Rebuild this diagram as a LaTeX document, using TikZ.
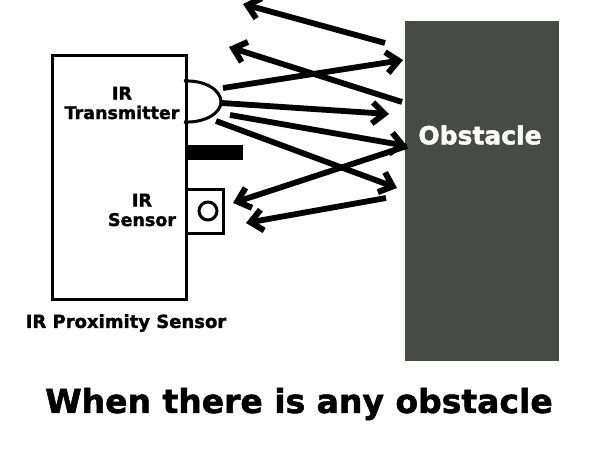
\documentclass[tikz,border=0pt]{standalone}
\usepackage{fontspec}
\setmainfont[BoldFeatures={FakeBold=1.6}]{DejaVu Sans}
\usetikzlibrary{arrows.meta,positioning}
\definecolor{obstaclegray}{HTML}{484A47}
\tikzset{
  label/.style={font=\bfseries\fontsize{17.5}{19.5}\selectfont,align=center,inner sep=0pt,text=black},
  part/.style={draw=black,line width=3pt,fill=white,inner sep=0pt,outer sep=0pt},
  ray/.style={-{Straight Barb[length=12pt,width=21pt,line width=6pt]},line width=5.8pt,black},
}
\begin{document}
\begin{tikzpicture}[x=1pt,y=-1pt]
  \useasboundingbox (0,0) rectangle (600,450);

  \node[part,minimum width=134pt,minimum height=244pt,anchor=north west] (sensor) at (52,55) {};
  \node[draw=none,fill=obstaclegray,minimum width=154pt,minimum height=340pt,inner sep=0pt,outer sep=0pt,anchor=north west] (obstacle) at (405,21) {};
  \node[font=\bfseries\fontsize{25}{28}\selectfont,text=white,inner sep=0pt] (obstacletext) at (480,135) {Obstacle};

  \node[part,minimum width=37pt,minimum height=44pt,anchor=north west] (receiver) at (186,189) {};
  \node[draw=black,line width=3pt,circle,minimum size=18pt,inner sep=0pt] (lens) at (208,211) {};
  \node[fill=black,minimum width=57pt,minimum height=15pt,inner sep=0pt,outer sep=0pt,anchor=north west] (bar) at (186,145) {};

  \coordinate (ledtop) at (184,81);
  \coordinate (ledtip) at (221,102);
  \coordinate (ledbot) at (184,122);
  \draw[line width=3pt] (ledtop) .. controls (205,80) and (221,90) .. (ledtip)
    .. controls (221,113) and (205,123) .. (ledbot);

  \node[label] (txlabel) at (122,103) {IR\\Transmitter};
  \node[label] (rxlabel) at (142,210) {IR\\Sensor};
  \node[font=\bfseries\fontsize{18}{20}\selectfont,inner sep=0pt] (sensorname) at (126,323) {IR Proximity Sensor};
  \node[font=\bfseries\fontsize{33}{36}\selectfont,inner sep=0pt] (caption) at (299,404) {When there is any obstacle};

  % rays
  \coordinate (a1) at (385,43);  \coordinate (b1) at (243,4);
  \coordinate (a2) at (402,102); \coordinate (b2) at (229,47);
  \coordinate (a3) at (223,88);  \coordinate (b3) at (403,60);
  \coordinate (a4) at (222,103); \coordinate (b4) at (389,114);
  \coordinate (a5) at (230,115); \coordinate (b5) at (407,146);
  \coordinate (a6) at (216,121); \coordinate (b6) at (397,188);
  \coordinate (a7) at (407,146); \coordinate (b7) at (233,203);
  \coordinate (a8) at (386,198); \coordinate (b8) at (246,223);
  \foreach \i in {1,...,8}
    \draw[ray] (a\i) -- (b\i);
\end{tikzpicture}
\end{document}
